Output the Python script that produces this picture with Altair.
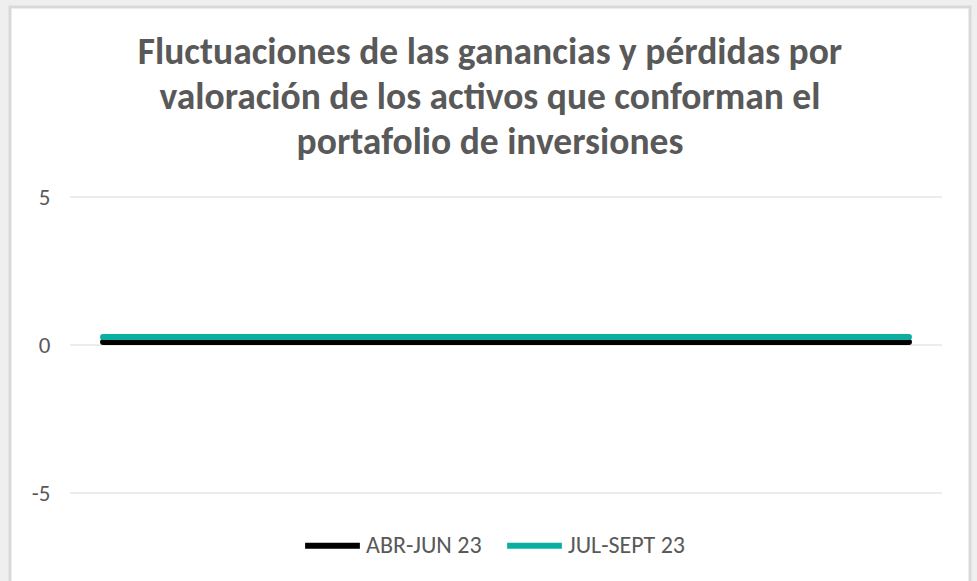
import altair as alt
import pandas as pd

categories = ["Inicio", "Fin"]
series_names = ["ABR-JUN 23", "JUL-SEPT 23"]
abr_jun = [0.10, 0.10]
jul_sept = [0.27, 0.27]
y_ticks = [-5, 0, 5]
colors = ["#000000", "#0BAFA2"]

rows = []
for name, vals in zip(series_names, [abr_jun, jul_sept]):
    for c, v in zip(categories, vals):
        rows.append({"periodo": c, "serie": name, "valor": v})
df = pd.DataFrame(rows)
grid_df = pd.DataFrame({"valor": y_ticks})

FONT = "Carlito, Calibri, Open Sans, sans-serif"
W, H = 872, 296
yscale = alt.Scale(domain=[-5, 5], nice=False)
yaxis = alt.Axis(values=y_ticks, title=None, ticks=False, domain=False,
                 grid=False, labelFontSize=23, zindex=1,
                 labelExpr="datum.value < 0 ? '-' + abs(datum.value) : datum.label",
                 labelColor="#595959", labelPadding=20, labelFont=FONT)

frame = alt.Chart(alt.Data(values=[{}])).mark_rect(
    fill="white", stroke="#d9d9d9", strokeWidth=3
).encode(
    x=alt.value(-60), x2=alt.value(900), y=alt.value(-190), y2=alt.value(410)
)

grid = alt.Chart(grid_df).mark_rule(color="#d9d9d9", strokeWidth=1).encode(
    y=alt.Y("valor:Q", scale=yscale, axis=yaxis)
)

lines = alt.Chart(df).mark_line(strokeWidth=6, strokeCap="round").encode(
    x=alt.X("periodo:N", sort=categories, axis=None,
            scale=alt.Scale(type="point", padding=0.041)),
    y=alt.Y("valor:Q", scale=yscale, axis=yaxis),
    color=alt.Color("serie:N", sort=series_names,
                    scale=alt.Scale(domain=series_names, range=colors),
                    legend=alt.Legend(title=None, orient="none", direction="horizontal",
                                      legendX=232, legendY=318, zindex=1,
                                      symbolType="stroke", symbolSize=3000,
                                      symbolStrokeWidth=6, labelFontSize=24,
                                      labelColor="#595959", labelFont=FONT,
                                      labelOffset=3, columnPadding=13)),
)

chart = alt.layer(frame, grid, lines).properties(
    width=W, height=H,
    title=alt.TitleParams(
        text=["Fluctuaciones de las ganancias y pérdidas por",
              "valoración de los activos que conforman el",
              "portafolio de inversiones"],
        font=FONT, fontSize=37.5, fontWeight="bold", color="#595959",
        lineHeight=45, anchor="middle", dx=-16, offset=-156,
    ),
    autosize=alt.AutoSizeParams(type="none"),
    padding={"left": 70, "top": 197, "right": 35, "bottom": 88},
    background="#efefef",
).configure_view(stroke=None)

chart.save("out.html", embed_options={"renderer": "svg", "actions": False})
